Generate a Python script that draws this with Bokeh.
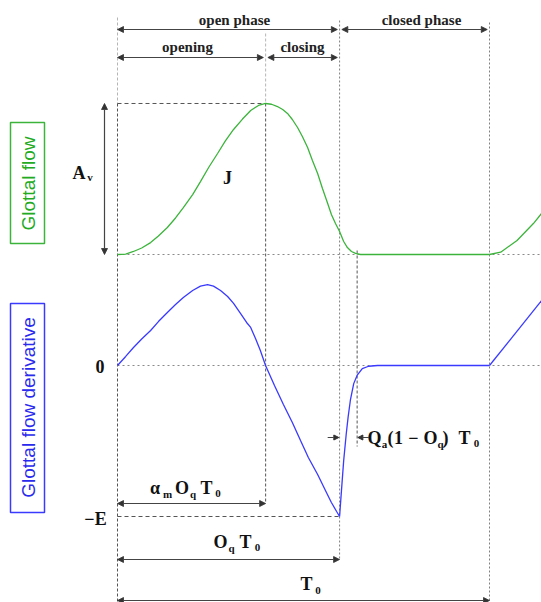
import numpy as np
from bokeh.plotting import figure
from bokeh.models import Range1d, Arrow, NormalHead, ColumnDataSource
from bokeh.core.properties import value
from bokeh.embed import file_html
from bokeh.resources import INLINE

# ---- LF model parameters (time in units of T0) ----
T0 = 1.0
Oq = 0.597
alpha_m = 0.667
Qa = 0.117

# ---- glottal flow (normalised to Av) ----
flow_t = [0, 0.022, 0.043, 0.065, 0.089, 0.110, 0.134, 0.156, 0.177, 0.202, 0.223, 0.245,
          0.269, 0.290, 0.312, 0.336, 0.358, 0.379, 0.398, 0.414, 0.430, 0.444, 0.457,
          0.470, 0.484, 0.497, 0.511, 0.524, 0.538, 0.551, 0.565, 0.575, 0.586, 0.597,
          0.608, 0.618, 0.629, 0.640, 0.653, 1.0]
flow_v = [0, 0.003, 0.02, 0.043, 0.079, 0.123, 0.179, 0.242, 0.311, 0.397, 0.483, 0.576,
          0.669, 0.752, 0.828, 0.897, 0.954, 0.987, 1.0, 0.995, 0.98, 0.96, 0.934,
          0.894, 0.841, 0.781, 0.709, 0.623, 0.536, 0.437, 0.338, 0.265, 0.205, 0.152,
          0.086, 0.046, 0.02, 0.007, 0, 0]
next_flow_t = [1.0, 1.030, 1.074, 1.118, 1.140]
next_flow_v = [0, 0.015, 0.093, 0.205, 0.272]

# ---- glottal flow derivative (normalised to E) ----
deriv_t = [0, 0.022, 0.043, 0.065, 0.089, 0.110, 0.134, 0.156, 0.177, 0.202, 0.223, 0.242,
           0.258, 0.277, 0.296, 0.312, 0.331, 0.347, 0.358, 0.371, 0.384, 0.398, 0.422,
           0.446, 0.470, 0.492, 0.513, 0.538, 0.559, 0.575, 0.589, 0.597, 0.602, 0.608,
           0.615, 0.620, 0.626, 0.635, 0.644, 0.658, 0.675, 0.699, 1.0]
deriv_v = [0, 0.06, 0.119, 0.175, 0.232, 0.291, 0.351, 0.404, 0.450, 0.497, 0.526, 0.536,
           0.526, 0.497, 0.457, 0.411, 0.344, 0.285, 0.252, 0.179, 0.099, 0, -0.132,
           -0.258, -0.377, -0.497, -0.609, -0.722, -0.828, -0.907, -0.967, -1.0, -0.83, -0.63,
           -0.45, -0.34, -0.23, -0.12, -0.066, -0.02, -0.005, 0, 0]
next_deriv_t = [1.0, 1.14]
next_deriv_v = [0, 0.43]

# ---- texts ----
phase_labels = ["open phase", "closed phase", "opening", "closing"]
panel_labels = ["Glottal flow", "Glottal flow derivative"]

GREEN = "#3cb43c"
BLUE = "#3a3aff"
DARK = "#555555"
LIGHT = "#b5b5b5"
SERIF = value("Liberation Serif")

tp = alpha_m * Oq * T0
te = Oq * T0
ta_end = te + Qa * (1 - Oq) * T0

p = figure(width=541, height=602, output_backend="svg", toolbar_location=None, tools="",
           x_range=Range1d(-0.31452, 1.13978), y_range=Range1d(602, 0),
           min_border=0, x_axis_location=None, y_axis_location=None)
p.outline_line_color = None
p.grid.visible = False
p.background_fill_color = "white"
p.border_fill_color = "white"
p.extra_x_ranges = {"px": Range1d(0, 541)}
p.extra_y_ranges = {"flow": Range1d(-2.3046, 1.6821), "deriv": Range1d(-1.5695, 2.4172)}

# ---- vertical guide lines (t units, layout y) ----
p.segment(x0=[0, tp], y0=[17, 33], x1=[0, tp], y1=[103, 103], line_color=LIGHT,
          line_dash="3 2", line_width=1)
p.segment(x0=[0, tp, ta_end], y0=[103, 103, 250], x1=[0, tp, ta_end], y1=[602, 503, 446],
          line_color=DARK, line_dash="3 2", line_width=1)
p.segment(x0=[te, T0], y0=[20, 22], x1=[te, T0], y1=[560, 602], line_color="#808080",
          line_dash="2 2", line_width=1)

# ---- horizontal guides ----
p.segment(x0=[0], y0=[1], x1=[tp], y1=[1], y_range_name="flow", line_color=DARK,
          line_dash="4 3", line_width=1)
p.segment(x0=[0], y0=[-1], x1=[te], y1=[-1], y_range_name="deriv", line_color=DARK,
          line_dash="4 3", line_width=1)
p.segment(x0=[0], y0=[0], x1=[1.14], y1=[0], y_range_name="flow", line_color="#8a8a8a",
          line_dash="2 3", line_width=1)
p.segment(x0=[0], y0=[0], x1=[1.14], y1=[0], y_range_name="deriv", line_color="#8a8a8a",
          line_dash="2 3", line_width=1)

# ---- curves ----
p.line(flow_t, flow_v, y_range_name="flow", line_color=GREEN, line_width=1.3)
p.line(next_flow_t, next_flow_v, y_range_name="flow", line_color=GREEN, line_width=1.3)
p.line(deriv_t, deriv_v, y_range_name="deriv", line_color=BLUE, line_width=1.3)
p.line(next_deriv_t, next_deriv_v, y_range_name="deriv", line_color=BLUE, line_width=1.3)

# ---- double arrows ----
def head():
    return NormalHead(size=6, fill_color="#333333", line_color="#333333", line_width=0.8)

g = 0.006
arr = ColumnDataSource(dict(
    x0=[0, te + g, 0, tp + g, 0, 0, 0],
    x1=[te - g, T0 - g, tp - g, te - g, tp, te, T0],
    y=[29, 29, 57, 57, 503, 559, 600],
))
p.add_layout(Arrow(start=head(), end=head(), x_start="x0", y_start="y", x_end="x1", y_end="y",
                   source=arr, line_color="#444444", line_width=1.2))
# amplitude arrow Av
p.add_layout(Arrow(start=head(), end=head(), x_start=104, y_start=0, x_end=104, y_end=1,
                   x_range_name="px", y_range_name="flow", line_color="#444444", line_width=1.2))
# return phase arrows
d = 0.032
p.add_layout(Arrow(end=NormalHead(size=5, fill_color="#333333", line_color="#333333"),
                   x_start=te - d, y_start=437, x_end=te - 0.002, y_end=437,
                   line_color="#444444", line_width=1))
p.add_layout(Arrow(end=NormalHead(size=5, fill_color="#333333", line_color="#333333"),
                   x_start=ta_end + d, y_start=437, x_end=ta_end + 0.002, y_end=437,
                   line_color="#444444", line_width=1))

# ---- phase labels ----
p.text(x=[234, 421, 187, 302], y=[19, 19, 46, 46], text=phase_labels, x_range_name="px",
       text_font=SERIF, text_font_style="bold", text_font_size="15px", text_color="#222222",
       text_align="center", text_baseline="middle")

# ---- panel boxes ----
p.quad(left=[10], right=[44], top=[122], bottom=[243], x_range_name="px",
       fill_color=None, line_color=GREEN, line_width=1.5)
p.quad(left=[10], right=[44], top=[303], bottom=[512], x_range_name="px",
       fill_color=None, line_color=BLUE, line_width=1.5)
p.text(x=[27.5], y=[183], text=[panel_labels[0]], angle=np.pi / 2, x_range_name="px",
       text_font=value("Liberation Sans"), text_font_size="19px", text_color="#22aa22",
       text_align="center", text_baseline="middle")
p.text(x=[27.5], y=[407], text=[panel_labels[1]], angle=np.pi / 2, x_range_name="px",
       text_font=value("Liberation Sans"), text_font_size="19px", text_color="#2a2aee",
       text_align="center", text_baseline="middle")

# ---- math labels (main glyphs and subscripts) ----
main_txt = ["A", "J", "0", "\u2212E", "\u03b1", "O", "T", "O", "T", "T",
            "Q", "(", "1", "\u2212", "O", ")", "T"]
main_x = [78.5, 227, 99.5, 95, 154.5, 181.5, 206, 220, 245, 306,
          374, 390, 398, 413, 430, 445, 464]
main_y = [172, 177, 366, 518, 487, 487, 487, 541, 541, 583,
          437, 437, 437, 437, 437, 437, 437]
p.text(x=main_x, y=main_y, text=main_txt, x_range_name="px", text_font=SERIF,
       text_font_style="bold", text_font_size="18px", text_color="#111111",
       text_align="center", text_baseline="middle")

sub_txt = ["v", "m", "q", "0", "q", "0", "0", "a", "q", "0"]
sub_x = [89.5, 167, 192.5, 217.5, 231, 257, 317.5, 384, 440, 476]
sub_y = [176, 493, 493, 493, 547, 547, 590, 443, 443, 443]
p.text(x=sub_x, y=sub_y, text=sub_txt, x_range_name="px", text_font=SERIF,
       text_font_style="bold", text_font_size="11px", text_color="#111111",
       text_align="center", text_baseline="middle")

open("out.html", "w").write(file_html(p, INLINE))
